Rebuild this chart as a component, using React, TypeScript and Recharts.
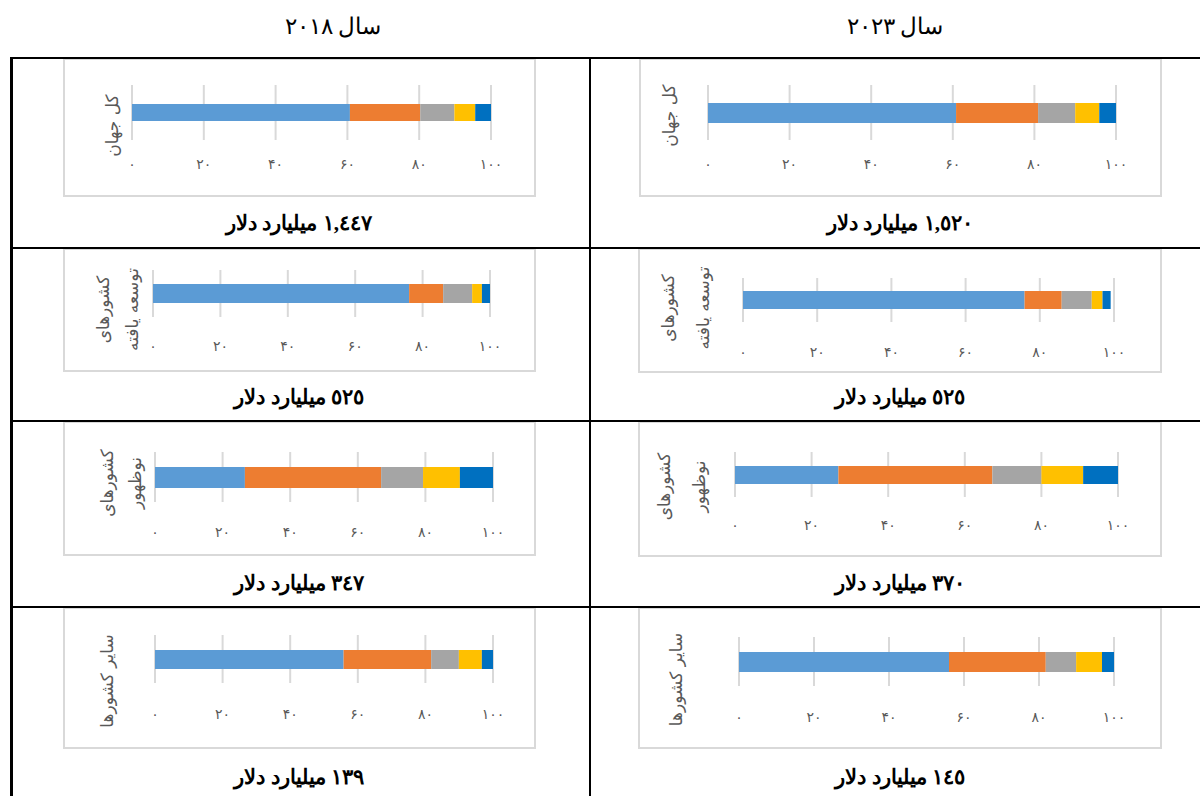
import { BarChart, Bar, XAxis, YAxis, CartesianGrid } from "recharts";

// column headers, right column is the newer year
const yearTitles = ["سال ۲۰۱۸", "سال ۲۰۲۳"];

const categories = ["کل جهان", "کشورهای توسعه یافته", "کشورهای نوظهور", "سایر کشورها"];
const categoryLines = [["کل جهان"], ["کشورهای", "توسعه یافته"], ["کشورهای", "نوظهور"], ["سایر کشورها"]];

// share of each segment (%), one value per category
const seg1_2018 = [60.7, 76.0, 26.6, 55.8];
const seg2_2018 = [19.6, 10.1, 40.3, 25.9];
const seg3_2018 = [9.5, 8.6, 12.4, 8.2];
const seg4_2018 = [5.8, 2.9, 10.9, 6.8];
const seg5_2018 = [4.4, 2.4, 9.8, 3.3];

const seg1_2023 = [60.8, 75.9, 27.0, 56.0];
const seg2_2023 = [20.1, 10.0, 40.2, 25.8];
const seg3_2023 = [9.1, 8.1, 12.8, 8.1];
const seg4_2023 = [5.9, 2.9, 10.9, 6.9];
const seg5_2023 = [4.1, 2.2, 9.1, 3.2];

// totals in billion dollars
const totals2018 = ["١,٤٤٧", "٥٢٥", "٣٤٧", "١٣٩"];
const totals2023 = ["١,٥٢٠", "٥٢٥", "٣٧٠", "١٤٥"];

const xTicks = [0, 20, 40, 60, 80, 100];

const SEG_KEYS = ["s1", "s2", "s3", "s4", "s5"];
const COLORS = ["#5B9BD5", "#ED7D31", "#A5A5A5", "#FFC000", "#0070C0"];

const series2018 = [seg1_2018, seg2_2018, seg3_2018, seg4_2018, seg5_2018];
const series2023 = [seg1_2023, seg2_2023, seg3_2023, seg4_2023, seg5_2023];

type Frame = {
  box: [number, number, number, number]; // x, y, w, h
  plot: [number, number, number, number]; // x0, x1, y0, y1
  bar: number;
  gap: number;
  dx: number[];
  dy: number;
};

const FRAMES_2018: Frame[] = [
  { box: [63, 58, 473, 139], plot: [132, 491, 85, 140], bar: 17, gap: 24, dx: [-20], dy: 13 },
  { box: [63, 248, 473, 124], plot: [153, 490, 270, 317], bar: 19, gap: 29, dx: [-50, -21], dy: 16 },
  { box: [63, 421, 473, 135], plot: [155, 493, 452, 502], bar: 21, gap: 30, dx: [-48, -20], dy: 6 },
  { box: [63, 607, 473, 142], plot: [155, 493, 635, 683], bar: 19, gap: 31, dx: [-48], dy: 22 },
];

const FRAMES_2023: Frame[] = [
  { box: [639, 58, 523, 139], plot: [708, 1116, 85, 140], bar: 20, gap: 24, dx: [-39], dy: 3 },
  { box: [638, 248, 524, 125], plot: [743, 1114, 278, 322], bar: 18, gap: 30, dx: [-75, -40], dy: 8 },
  { box: [638, 421, 524, 136], plot: [735, 1118, 452, 497], bar: 18, gap: 28, dx: [-71, -36], dy: 12 },
  { box: [638, 607, 524, 142], plot: [739, 1114, 637, 686], bar: 20, gap: 31, dx: [-63], dy: 18 },
];

const CAPTION_Y = [223, 397, 583, 777];
const CAPTION_X = [299, 900];

const LABEL_FONT = "'DejaVu Sans', sans-serif";
const TEXT_FONT = "'Times New Roman', 'Liberation Serif', serif";
const AXIS_GRAY = "#595959";

const toFa = (n: number) => String(n).replace(/\d/g, (d) => "۰۱۲۳۴۵۶۷۸۹"[+d]);

function ValueTick(props: any) {
  const { x, y, payload } = props;
  return (
    <text
      x={x}
      y={y}
      textAnchor="middle"
      dominantBaseline="central"
      fill={AXIS_GRAY}
      fontSize={14}
      letterSpacing={4}
      fontFamily={LABEL_FONT}
    >
      {toFa(payload.value)}
    </text>
  );
}

function CategoryTick(props: any) {
  const { x, y, lines, dx, dy } = props;
  return (
    <g>
      {lines.map((t: string, i: number) => {
        const cx = x + dx[i];
        const cy = y + dy;
        return (
          <text
            key={i}
            x={cx}
            y={cy}
            transform={`rotate(-90 ${cx} ${cy})`}
            textAnchor="middle"
            dominantBaseline="central"
            fill={AXIS_GRAY}
            fontSize={17}
            fontFamily={LABEL_FONT}
          >
            {t}
          </text>
        );
      })}
    </g>
  );
}

function ShareBar({ idx, series, frame }: { idx: number; series: number[][]; frame: Frame }) {
  const [bx, by, bw, bh] = frame.box;
  const [x0, x1, y0, y1] = frame.plot;
  const row: Record<string, string | number> = { name: categories[idx] };
  SEG_KEYS.forEach((k, i) => (row[k] = series[i][idx]));
  const xAxisH = 30;

  return (
    <div style={{ position: "absolute", left: bx, top: by, width: bw, height: bh }}>
      <div
        style={{
          position: "absolute",
          inset: 0,
          border: "2px solid #d9d9d9",
          boxSizing: "border-box",
        }}
      />
      <div style={{ position: "absolute", left: 0, top: 0 }}>
        <BarChart
          width={bw}
          height={bh}
          data={[row]}
          layout="vertical"
          barSize={frame.bar}
          margin={{ top: y0 - by, right: bx + bw - x1, bottom: by + bh - y1 - xAxisH, left: 0 }}
        >
          <CartesianGrid horizontal={false} stroke="#d9d9d9" strokeWidth={2} />
          <XAxis
            type="number"
            domain={[0, 100]}
            allowDataOverflow
            ticks={xTicks}
            axisLine={false}
            tickLine={false}
            tickSize={0}
            tickMargin={frame.gap}
            height={xAxisH}
            tick={<ValueTick />}
          />
          <YAxis
            type="category"
            dataKey="name"
            width={x0 - bx}
            axisLine={false}
            tickLine={false}
            tickSize={0}
            tickMargin={0}
            tick={(p: any) => <CategoryTick {...p} lines={categoryLines[idx]} dx={frame.dx} dy={frame.dy} />}
          />
          {SEG_KEYS.map((k, i) => (
            <Bar key={k} dataKey={k} stackId="share" fill={COLORS[i]} isAnimationActive={false} />
          ))}
        </BarChart>
      </div>
    </div>
  );
}

const line = (style: React.CSSProperties) => (
  <div style={{ position: "absolute", background: "#000", ...style }} />
);

export default function App() {
  const columns = [
    { series: series2018, frames: FRAMES_2018, totals: totals2018 },
    { series: series2023, frames: FRAMES_2023, totals: totals2023 },
  ];

  return (
    <div
      style={{
        position: "absolute",
        left: 0,
        top: 0,
        width: 1200,
        height: 796,
        overflow: "hidden",
        background: "#fff",
      }}
    >
      {yearTitles.map((t, i) => (
        <div
          key={t}
          style={{
            position: "absolute",
            left: [333, 895][i] - 100,
            top: 12,
            width: 200,
            textAlign: "center",
            direction: "rtl",
            fontFamily: TEXT_FONT,
            fontSize: 23,
            lineHeight: "30px",
            color: "#000",
          }}
        >
          {t}
        </div>
      ))}

      {columns.map((col, c) =>
        categories.map((_, r) => (
          <div key={`${c}-${r}`}>
            <ShareBar idx={r} series={col.series} frame={col.frames[r]} />
            <div
              style={{
                position: "absolute",
                left: CAPTION_X[c] - 150,
                top: CAPTION_Y[r] - 15,
                width: 300,
                textAlign: "center",
                direction: "rtl",
                fontFamily: TEXT_FONT,
                fontSize: 21,
                fontWeight: 600,
                lineHeight: "30px",
                color: "#000",
              }}
            >
              {col.totals[r]} میلیارد دلار
            </div>
          </div>
        ))
      )}

      {/* table rules */}
      {line({ left: 10, top: 57, width: 1190, height: 2 })}
      {line({ left: 10, top: 57, width: 3, height: 739 })}
      {line({ left: 589, top: 57, width: 2, height: 739 })}
      {line({ left: 10, top: 247, width: 1190, height: 2 })}
      {line({ left: 10, top: 420, width: 1190, height: 2 })}
      {line({ left: 10, top: 606, width: 1190, height: 2 })}
    </div>
  );
}
